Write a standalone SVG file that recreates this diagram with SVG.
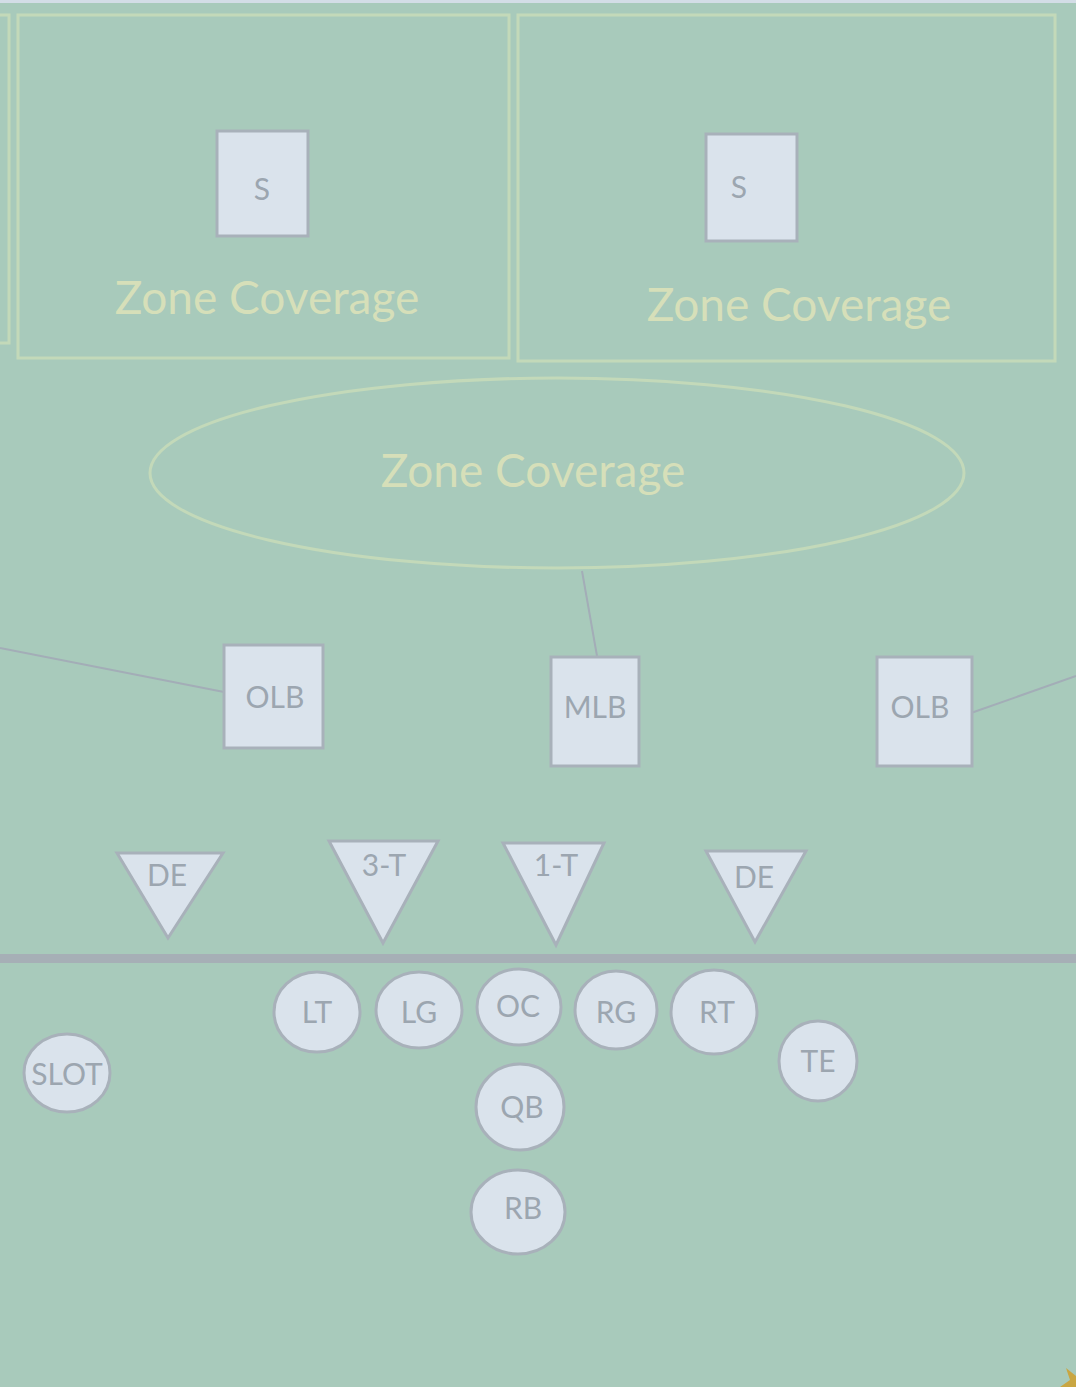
<svg xmlns="http://www.w3.org/2000/svg" width="1076" height="1387" viewBox="0 0 1076 1387">
<style>
.zone{fill:none;stroke:#c3d9b9;stroke-width:3}
.ztxt{font-family:Lato,"Open Sans",sans-serif;font-size:46px;fill:#d6dfb9;text-anchor:middle}
.node{fill:#dae3ec;stroke:#a8b1ba;stroke-width:3}
.ntxt{font-family:Lato,"Open Sans",sans-serif;font-size:30px;fill:#9ca6b0;text-anchor:middle}
.conn{stroke:#a3adb7;stroke-width:2;fill:none}
</style>
<rect x="0" y="0" width="1076" height="1387" fill="#a8cabb"/>
<rect x="0" y="0" width="1076" height="3" fill="#d3dde6"/>
<g id="zones">
<rect class="zone" x="-5" y="15" width="14" height="328"/>
<g id="zone-left"><rect class="zone" x="18" y="15" width="491" height="343"/><text class="ztxt" x="267" y="314">Zone Coverage</text></g>
<g id="zone-right"><rect class="zone" x="518" y="15" width="537" height="346"/><text class="ztxt" x="799" y="321">Zone Coverage</text></g>
<g id="zone-middle"><ellipse class="zone" cx="557" cy="473" rx="407" ry="95"/><text class="ztxt" x="533" y="487">Zone Coverage</text></g>
</g>
<g id="connectors">
<line class="conn" x1="582" y1="571" x2="597" y2="656"/>
<line class="conn" x1="0" y1="648" x2="224" y2="692"/>
<line class="conn" x1="971" y1="713" x2="1076" y2="676"/>
<rect x="0" y="954" width="1076" height="9" fill="#a6afb6"/>
</g>
<g id="S1"><rect class="node" x="217" y="131" width="91" height="105"/><text class="ntxt" x="262" y="200">S</text></g>
<g id="S2"><rect class="node" x="706" y="134" width="91" height="107"/><text class="ntxt" x="739" y="198">S</text></g>
<g id="OLB1"><rect class="node" x="224" y="645" width="99" height="103"/><text class="ntxt" x="275" y="708">OLB</text></g>
<g id="MLB"><rect class="node" x="551" y="657" width="88" height="109"/><text class="ntxt" x="595" y="718">MLB</text></g>
<g id="OLB2"><rect class="node" x="877" y="657" width="95" height="109"/><text class="ntxt" x="920" y="718">OLB</text></g>
<g id="DE1"><polygon class="node" points="117,853 223,853 168,938"/><text class="ntxt" x="167" y="886">DE</text></g>
<g id="T3"><polygon class="node" points="329,841 438,841 383,943"/><text class="ntxt" x="384" y="876">3-T</text></g>
<g id="T1"><polygon class="node" points="503,843 604,843 556,945"/><text class="ntxt" x="556" y="876">1-T</text></g>
<g id="DE2"><polygon class="node" points="706,851 806,851 755,942"/><text class="ntxt" x="754" y="888">DE</text></g>
<g id="LT"><ellipse class="node" cx="317" cy="1012" rx="43" ry="40"/><text class="ntxt" x="317" y="1023">LT</text></g>
<g id="LG"><ellipse class="node" cx="419" cy="1010" rx="43" ry="38"/><text class="ntxt" x="419" y="1023">LG</text></g>
<g id="OC"><ellipse class="node" cx="519" cy="1007" rx="42" ry="38"/><text class="ntxt" x="518" y="1017">OC</text></g>
<g id="RG"><ellipse class="node" cx="616" cy="1010" rx="41" ry="39"/><text class="ntxt" x="616" y="1023">RG</text></g>
<g id="RT"><ellipse class="node" cx="714" cy="1012" rx="43" ry="42"/><text class="ntxt" x="717" y="1023">RT</text></g>
<g id="TE"><ellipse class="node" cx="818" cy="1061" rx="39" ry="40"/><text class="ntxt" x="818" y="1072">TE</text></g>
<g id="SLOT"><ellipse class="node" cx="67" cy="1073" rx="43" ry="39"/><text class="ntxt" x="67" y="1085">SLOT</text></g>
<g id="QB"><ellipse class="node" cx="520" cy="1107" rx="44" ry="43"/><text class="ntxt" x="522" y="1118">QB</text></g>
<g id="RB"><ellipse class="node" cx="518" cy="1212" rx="47" ry="42"/><text class="ntxt" x="523" y="1219">RB</text></g>
<polygon points="1066,1368 1076,1376 1076,1387 1060,1387 1070,1380" fill="#c9a642"/>
</svg>
